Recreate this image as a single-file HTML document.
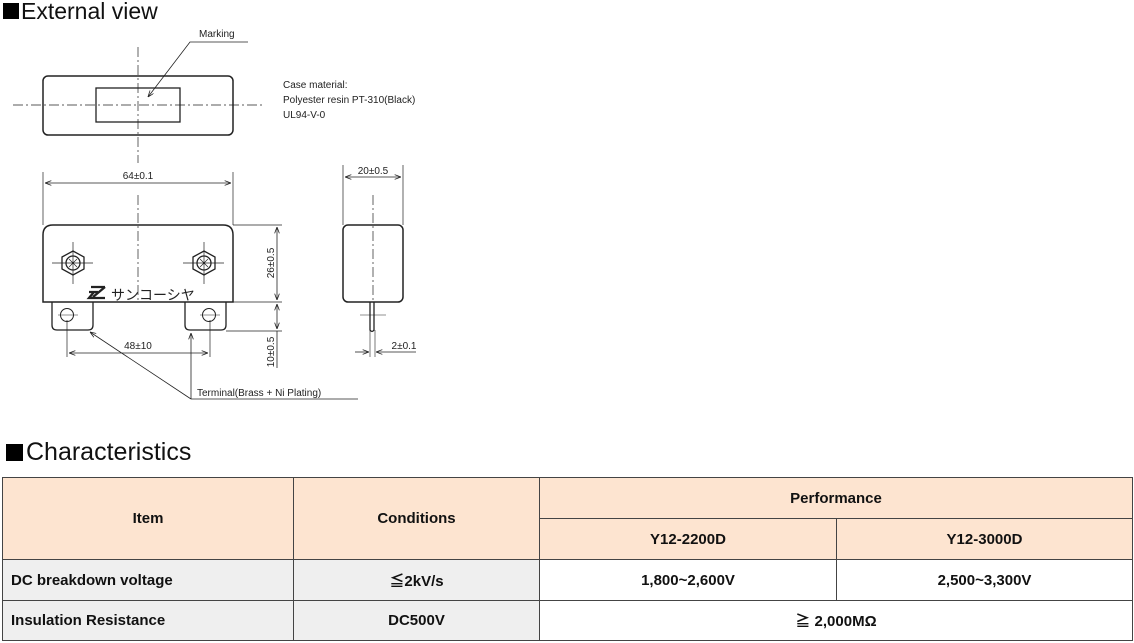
<!DOCTYPE html>
<html><head><meta charset="utf-8"><style>
body{margin:0;width:1134px;height:643px;background:#fff;position:relative;overflow:hidden;font-family:"Liberation Sans","Noto Sans CJK JP",sans-serif}
.t{position:absolute;color:#111;white-space:nowrap;line-height:1}
.sq{position:absolute;background:#000}
table{position:absolute;left:2px;top:477px;border-collapse:collapse;font-size:15px;font-weight:bold;color:#111}
td{border:1px solid #444;text-align:center;padding:0}
.h{background:#fde4d0}
.g{background:#efefef}
.l{text-align:left;padding-left:8px}
</style></head><body>
<div class="sq" style="left:3px;top:3px;width:16px;height:16px"></div>
<div class="t" style="left:21px;top:0px;font-size:23px">External view</div>
<div class="sq" style="left:6px;top:444px;width:17px;height:17px"></div>
<div class="t" style="left:26px;top:440px;font-size:25px">Characteristics</div>
<svg width="1134" height="430" style="position:absolute;left:0;top:0" font-family="Liberation Sans Narrow,Liberation Sans,sans-serif" font-size="10" fill="none" stroke="#222" stroke-width="1">
<defs><marker id="a" markerWidth="8" markerHeight="6" refX="8" refY="3" orient="auto-start-reverse"><path d="M0,0L8,3L0,6" fill="none" stroke="#222"/></marker></defs>
<rect x="43" y="76" width="190" height="59" rx="5" stroke-width="1.5"/>
<rect x="96" y="88" width="84" height="34" stroke-width="1.3"/>
<line x1="138" y1="47" x2="138" y2="163" stroke-dasharray="10,3,2,3" stroke-width=".7"/>
<line x1="13" y1="105" x2="262" y2="105" stroke-dasharray="10,3,2,3" stroke-width=".7"/>
<polyline points="248,42 190,42 148,97" marker-end="url(#a)" stroke-width=".8"/>
<g fill="#222" stroke="none">
<text x="199" y="37">Marking</text>
<text x="283" y="88">Case material:</text>
<text x="283" y="103">Polyester resin PT-310(Black)</text>
<text x="283" y="118">UL94-V-0</text>
<text x="138" y="179" text-anchor="middle">64±0.1</text>
<text x="373" y="174" text-anchor="middle">20±0.5</text>
<text x="138" y="349" text-anchor="middle">48±10</text>
<text x="404" y="349" text-anchor="middle">2±0.1</text>
<text x="197" y="396">Terminal(Brass + Ni Plating)</text>
<text transform="translate(274,263) rotate(-90)" text-anchor="middle">26±0.5</text>
<text transform="translate(274,352) rotate(-90)" text-anchor="middle">10±0.5</text>
<text x="111" y="300" font-size="14" font-family="Noto Sans CJK JP,sans-serif">サンコーシヤ</text>
</g>
<path d="M91,287 h14 M89,292 l9,0 M94,292 l-5,6 h16 M93,297 l12,-10" stroke-width="2.3"/>
<line x1="43" y1="172" x2="43" y2="225" stroke-width=".7"/>
<line x1="233" y1="172" x2="233" y2="225" stroke-width=".7"/>
<line x1="45" y1="183" x2="231" y2="183" marker-start="url(#a)" marker-end="url(#a)" stroke-width=".8"/>
<path d="M43,302 L43,235 Q43,225 53,225 L223,225 Q233,225 233,235 L233,302 Z" stroke-width="1.5"/>
<line x1="138" y1="195" x2="138" y2="300" stroke-dasharray="10,3,2,3" stroke-width=".7"/>
<path d="M52,302 V325 Q52,330 57,330 H88 Q93,330 93,325 V302" stroke-width="1.3"/>
<path d="M185,302 V325 Q185,330 190,330 H221 Q226,330 226,325 V302" stroke-width="1.3"/>
<circle cx="67" cy="315" r="6.5"/><circle cx="209" cy="315" r="6.5"/>
<line x1="58" y1="315" x2="78" y2="315" stroke-width=".6"/><line x1="200" y1="315" x2="220" y2="315" stroke-width=".6"/>
<g stroke-width="1.3">
<polygon points="62,257 73,251 84,257 84,269 73,275 62,269"/><circle cx="73" cy="263" r="7"/>
<polygon points="193,257 204,251 215,257 215,269 204,275 193,269"/><circle cx="204" cy="263" r="7"/>
</g>
<path d="M52,263 H93 M73,242 V284 M183,263 H224 M204,242 V284 M69,259 l8,8 M77,259 l-8,8 M200,259 l8,8 M208,259 l-8,8" stroke-width=".7"/>
<line x1="233" y1="225" x2="282" y2="225" stroke-width=".7"/>
<line x1="233" y1="302" x2="282" y2="302" stroke-width=".7"/>
<line x1="226" y1="331" x2="282" y2="331" stroke-width=".7"/>
<line x1="277" y1="227" x2="277" y2="300" marker-start="url(#a)" marker-end="url(#a)" stroke-width=".8"/>
<line x1="277" y1="304" x2="277" y2="329" marker-start="url(#a)" marker-end="url(#a)" stroke-width=".8"/>
<line x1="277" y1="331" x2="277" y2="368" stroke-width=".8"/>
<line x1="67" y1="320" x2="67" y2="357" stroke-width=".7"/>
<line x1="210" y1="320" x2="210" y2="357" stroke-width=".7"/>
<line x1="69" y1="353" x2="208" y2="353" marker-start="url(#a)" marker-end="url(#a)" stroke-width=".8"/>
<line x1="191" y1="399" x2="90" y2="332" marker-end="url(#a)" stroke-width=".8"/>
<line x1="191" y1="399" x2="191" y2="333" marker-end="url(#a)" stroke-width=".8"/>
<line x1="191" y1="399" x2="358" y2="399" stroke-width=".8"/>
<line x1="343" y1="165" x2="343" y2="225" stroke-width=".7"/>
<line x1="403" y1="165" x2="403" y2="225" stroke-width=".7"/>
<line x1="345" y1="177" x2="401" y2="177" marker-start="url(#a)" marker-end="url(#a)" stroke-width=".8"/>
<rect x="343" y="225" width="60" height="77" rx="5" stroke-width="1.5"/>
<line x1="373" y1="195" x2="373" y2="300" stroke-dasharray="10,3,2,3" stroke-width=".7"/>
<path d="M370,302 V330 Q372,333 374,330 V302" stroke-width="1.3"/>
<line x1="360" y1="315" x2="386" y2="315" stroke-width=".6"/>
<line x1="370" y1="330" x2="370" y2="357" stroke-width=".6"/>
<line x1="375" y1="330" x2="375" y2="357" stroke-width=".6"/>
<line x1="355" y1="352" x2="369" y2="352" marker-end="url(#a)" stroke-width=".8"/>
<line x1="416" y1="352" x2="376" y2="352" marker-end="url(#a)" stroke-width=".8"/>
</svg>
<table>
<colgroup><col style="width:291px"><col style="width:246px"><col style="width:297px"><col style="width:296px"></colgroup>
<tr style="height:41px"><td class="h" rowspan="2">Item</td><td class="h" rowspan="2">Conditions</td><td class="h" colspan="2">Performance</td></tr>
<tr style="height:41px"><td class="h">Y12-2200D</td><td class="h">Y12-3000D</td></tr>
<tr style="height:41px"><td class="g l">DC breakdown voltage</td><td class="g">≦2kV/s</td><td>1,800~2,600V</td><td>2,500~3,300V</td></tr>
<tr style="height:40px"><td class="g l">Insulation Resistance</td><td class="g">DC500V</td><td colspan="2">≧ 2,000MΩ</td></tr>
</table>
</body></html>
